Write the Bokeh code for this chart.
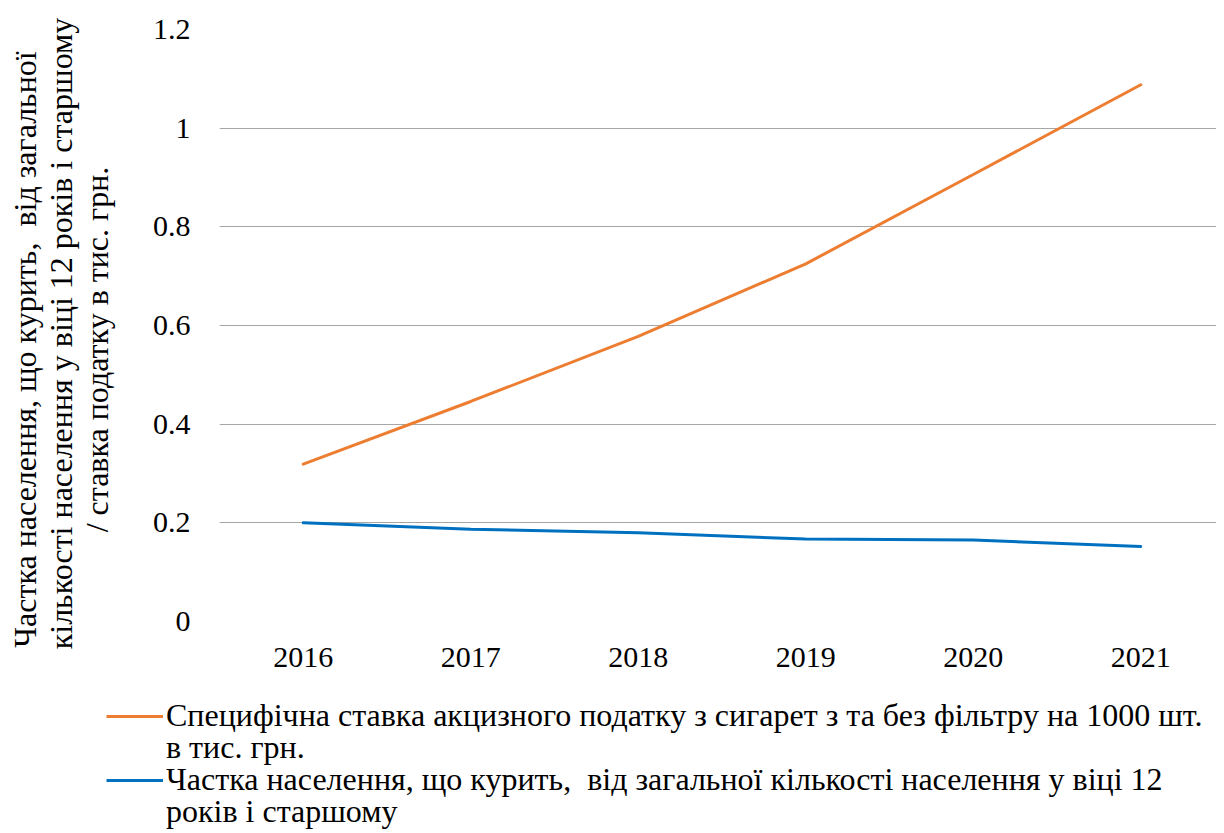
import math
from bokeh.plotting import figure
from bokeh.layouts import column
from bokeh.models import (Range1d, FixedTicker, CustomJSTickFormatter,
                          Legend, LegendItem)
from bokeh.embed import file_html
from bokeh.resources import INLINE

years = ["2016", "2017", "2018", "2019", "2020", "2021"]
excise_rate = [0.319, 0.446, 0.578, 0.725, 0.906, 1.088]
smokers_share = [0.200, 0.187, 0.180, 0.167, 0.165, 0.152]
y_ticks = [0, 0.2, 0.4, 0.6, 0.8, 1.0, 1.2]

excise_label_1 = "Специфічна ставка акцизного податку з сигарет з та без фільтру на 1000 шт."
excise_label_2 = "в тис. грн."
smokers_label_1 = "Частка населення, що курить,\u00a0 від загальної кількості населення у віці 12"
smokers_label_2 = "років і старшому"
NB = "\u00a0"
y_title = ("Частка населення, що курить,\u00a0 від загальної" + NB * 6 + "\n"
           "кількості населення у віці 12 років і старшому" + NB * 2 + "\n"
           "/ ставка податку в тис. грн." + NB * 6)

FONT = "Liberation Serif"
ORANGE = "#ED7D31"
BLUE = "#0070C0"

x_idx = list(range(len(years)))

p = figure(width=1216, height=682, output_backend="svg", toolbar_location=None,
           x_range=Range1d(-0.5, 5.452), y_range=Range1d(0, 1.2),
           min_border_left=219, min_border_right=0, min_border_top=29, min_border_bottom=61)
p.frame_align = False
p.outline_line_color = None
p.background_fill_color = "white"
p.border_fill_color = "white"

p.xgrid.grid_line_color = None
p.ygrid.grid_line_color = "#A6A6A6"
p.ygrid.grid_line_width = 1
p.yaxis.ticker = FixedTicker(ticks=y_ticks)
p.yaxis.formatter = CustomJSTickFormatter(code="return String(Math.round(tick*10)/10);")
p.xaxis.ticker = FixedTicker(ticks=x_idx)
p.xaxis.major_label_overrides = {i: y for i, y in zip(x_idx, years)}

for ax in (p.xaxis, p.yaxis):
    ax.axis_line_color = None
    ax.major_tick_line_color = None
    ax.minor_tick_line_color = None
    ax.major_label_text_font = FONT
    ax.major_label_text_font_size = "30px"
    ax.major_label_text_color = "black"
p.yaxis.major_label_standoff = 23
p.xaxis.major_label_standoff = 20

p.yaxis.axis_label = y_title
p.yaxis.axis_label_text_font = FONT
p.yaxis.axis_label_text_font_size = "32px"
p.yaxis.axis_label_text_font_style = "normal"
p.yaxis.axis_label_text_color = "black"
p.yaxis.axis_label_text_line_height = 1.0
p.yaxis.axis_label_standoff = 35

p.line(x_idx, excise_rate, line_color=ORANGE, line_width=3, line_cap="round")
p.line(x_idx, smokers_share, line_color=BLUE, line_width=3, line_cap="round")

# legend strip below the chart
p2 = figure(width=1216, height=151, output_backend="svg", toolbar_location=None,
            x_range=Range1d(-0.5, 5.452), y_range=Range1d(10, 11),
            x_axis_type=None, y_axis_type=None,
            min_border_left=0, min_border_right=0, min_border_top=0, min_border_bottom=0)
p2.frame_align = False
p2.outline_line_color = None
p2.grid.grid_line_color = None
l1 = p2.line(x_idx, excise_rate, line_color=ORANGE, line_width=3)
l2 = p2.line(x_idx, smokers_share, line_color=BLUE, line_width=3)

rows = [(excise_label_1, [l1], 99),
        (excise_label_2, [], 67),
        (smokers_label_1, [l2], 35),
        (smokers_label_2, [], 3)]
for label, rends, ypos in rows:
    lg = Legend(items=[LegendItem(label=label, renderers=rends)],
                location=(106, ypos), orientation="vertical",
                padding=0, margin=0, spacing=0, glyph_width=57, glyph_height=32,
                label_height=32, label_standoff=3,
                label_text_font=FONT, label_text_font_size="32px",
                label_text_color="black",
                background_fill_alpha=0, border_line_color=None)
    p2.add_layout(lg, "center")

layout = column(p, p2)
open("out.html", "w").write(file_html(layout, INLINE))
